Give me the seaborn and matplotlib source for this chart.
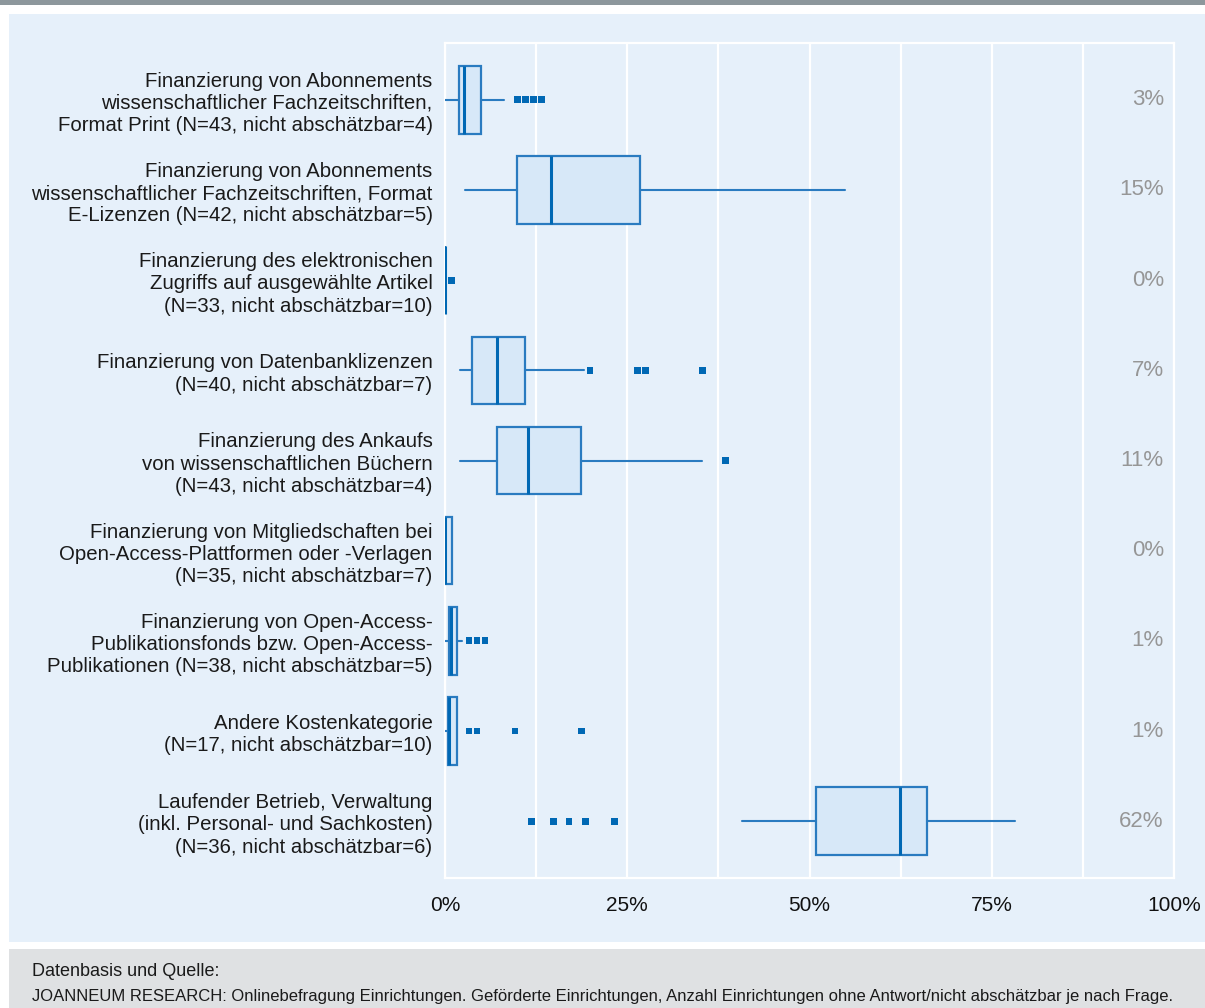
import matplotlib
matplotlib.use("Agg")
import matplotlib.pyplot as plt
from matplotlib.patches import Rectangle
from matplotlib.ticker import MultipleLocator, FuncFormatter
import seaborn as sns
import pandas as pd

# Cost categories (top to bottom)
categories = [
    "Finanzierung von Abonnements\nwissenschaftlicher Fachzeitschriften,\nFormat Print (N=43, nicht abschätzbar=4)",
    "Finanzierung von Abonnements\nwissenschaftlicher Fachzeitschriften, Format\nE-Lizenzen (N=42, nicht abschätzbar=5)",
    "Finanzierung des elektronischen\nZugriffs auf ausgewählte Artikel\n(N=33, nicht abschätzbar=10)",
    "Finanzierung von Datenbanklizenzen\n(N=40, nicht abschätzbar=7)",
    "Finanzierung des Ankaufs\nvon wissenschaftlichen Büchern\n(N=43, nicht abschätzbar=4)",
    "Finanzierung von Mitgliedschaften bei\nOpen-Access-Plattformen oder -Verlagen\n(N=35, nicht abschätzbar=7)",
    "Finanzierung von Open-Access-\nPublikationsfonds bzw. Open-Access-\nPublikationen (N=38, nicht abschätzbar=5)",
    "Andere Kostenkategorie\n(N=17, nicht abschätzbar=10)",
    "Laufender Betrieb, Verwaltung\n(inkl. Personal- und Sachkosten)\n(N=36, nicht abschätzbar=6)",
]

# Box statistics in percent of total cost
whisker_low = [0.0, 2.7, 0.0, 2.0, 2.0, 0.0, 0.0, 0.0, 40.8]
quartile_1 = [1.9, 9.9, 0.0, 3.7, 7.1, 0.0, 0.6, 0.4, 50.9]
median = [2.6, 14.6, 0.0, 7.1, 11.4, 0.0, 0.8, 0.6, 62.4]
quartile_3 = [5.0, 26.7, 0.0, 11.0, 18.6, 1.0, 1.7, 1.7, 66.1]
whisker_high = [8.1, 54.9, 0.0, 19.1, 35.3, 1.0, 2.4, 1.7, 78.2]
outliers = [
    [9.9, 11.0, 12.1, 13.2],
    [],
    [0.9],
    [19.9, 26.4, 27.5, 35.3],
    [38.5],
    [],
    [3.3, 4.4, 5.5],
    [3.3, 4.4, 9.6, 18.7],
    [11.9, 14.9, 17.0, 19.3, 23.2],
]

source_title = "Datenbasis und Quelle:"
source_text = ("JOANNEUM RESEARCH: Onlinebefragung Einrichtungen. Geförderte Einrichtungen, "
               "Anzahl Einrichtungen ohne Antwort/nicht abschätzbar je nach Frage.")

# Colours
PANEL = "#e6f0fa"
BOX_FILL = "#d7e8f8"
BOX_EDGE = "#2a7bc0"
DARK_BLUE = "#0068b4"
LABEL_GREY = "#969696"
TEXT = "#1a1a1a"

sns.set_theme(style="white")
plt.rcParams["font.family"] = ["Liberation Sans", "DejaVu Sans"]

fig = plt.figure(figsize=(12.05, 10.08), dpi=100)
fig.patch.set_facecolor("white")

W, H = 1205.0, 1008.0
# Frame: grey rule on top, light panel, grey source box
fig.add_artist(Rectangle((0, 1 - 5 / H), 1, 5 / H, transform=fig.transFigure,
                         facecolor="#8d979c", edgecolor="none", zorder=0))
fig.add_artist(Rectangle((9 / W, 1 - 942 / H), 1 - 9 / W, (942 - 14) / H,
                         transform=fig.transFigure, facecolor=PANEL,
                         edgecolor="none", zorder=0))
fig.add_artist(Rectangle((9 / W, 0), 1 - 9 / W, 1 - 949 / H,
                         transform=fig.transFigure, facecolor="#dfe1e3",
                         edgecolor="none", zorder=0))

ax = fig.add_axes([445 / W, 1 - 878 / H, (1174 - 445) / W, (878 - 43) / H])
ax.set_facecolor(PANEL)

positions = list(range(len(categories)))
stats = [
    dict(med=m, q1=a, q3=b, whislo=lo, whishi=hi, fliers=[])
    for m, a, b, lo, hi in zip(median, quartile_1, quartile_3, whisker_low, whisker_high)
]
ax.bxp(
    stats,
    positions=positions,
    widths=0.75,
    orientation="horizontal",
    showcaps=False,
    showfliers=False,
    patch_artist=True,
    boxprops=dict(facecolor=BOX_FILL, edgecolor=BOX_EDGE, linewidth=1.6),
    medianprops=dict(color=DARK_BLUE, linewidth=2.2, solid_capstyle="butt"),
    whiskerprops=dict(color=BOX_EDGE, linewidth=1.5),
    zorder=3,
)

# Outlying institutions as square markers
flier_df = pd.DataFrame(
    [(v, i) for i, vals in enumerate(outliers) for v in vals],
    columns=["anteil", "pos"],
)
sns.scatterplot(data=flier_df, x="anteil", y="pos", marker="s", s=24,
                color=DARK_BLUE, edgecolor="none", linewidth=0, ax=ax, zorder=4,
                legend=False)

# Median values on the right
for i, m in enumerate(median):
    ax.text(98.6, i, f"{m:.0f}%", ha="right", va="center",
            fontsize=16, color=LABEL_GREY, zorder=5)

ax.set_xlim(0, 100)
ax.set_ylim(len(categories) - 1 + 0.63, -0.63)
ax.set_yticks(positions)
ax.set_yticklabels(categories, fontsize=14.7, color=TEXT, linespacing=1.22)
for lbl in ax.get_yticklabels():
    lbl.set_horizontalalignment("right")

ax.xaxis.set_major_locator(MultipleLocator(25))
ax.xaxis.set_minor_locator(MultipleLocator(12.5))
ax.xaxis.set_major_formatter(FuncFormatter(lambda v, p: f"{v:.0f}%"))
ax.tick_params(axis="x", which="both", length=0, labelsize=15,
               labelcolor="#111111", pad=13)
ax.tick_params(axis="y", length=0, pad=9)
ax.grid(axis="x", which="both", color="white", linewidth=1.6, zorder=1)
ax.grid(axis="y", visible=False)
ax.set_axisbelow(True)
ax.set_xlabel("")
ax.set_ylabel("")
for sp in ax.spines.values():
    sp.set_color("white")
    sp.set_linewidth(1.6)
    sp.set_visible(True)

# Source note, sized so the long line fits the grey box
fig.text(32 / W, 1 - 971 / H, source_title, ha="left", va="center",
         fontsize=13, color=TEXT)
src = fig.text(32 / W, 1 - 996 / H, source_text, ha="left", va="center",
               fontsize=12, color=TEXT)
renderer = fig.canvas.get_renderer()
width_px = src.get_window_extent(renderer).width
target_px = 1198 - 32
if width_px > target_px:
    src.set_fontsize(12 * target_px / width_px)

fig.savefig("out.png", dpi=100, facecolor=fig.get_facecolor())
